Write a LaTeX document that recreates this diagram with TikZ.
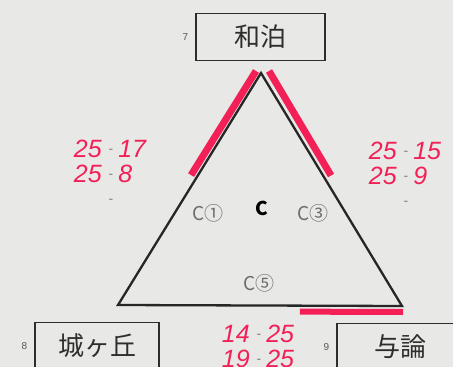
\documentclass[tikz,border=0pt]{standalone}
\usepackage{fontspec}
\setmainfont{Noto Sans CJK JP}
\newfontfamily\handfont{Liberation Sans}
\usetikzlibrary{calc, positioning}

\definecolor{paper}{RGB}{232,232,230}
\definecolor{marker}{RGB}{242,32,86}
\definecolor{ink}{RGB}{45,45,45}

\newcommand{\scoredash}{\hspace{7pt}\raisebox{4pt}{\upshape\color{ink!60}\fontsize{14}{14}\selectfont -}\hspace{5pt}}

\tikzset{
	team_box/.style={draw=ink, line width=1.3pt, minimum height=47pt, inner sep=0pt, text=ink, font=\fontsize{26}{26}\selectfont},
	seed_label/.style={inner sep=1pt, text=ink!80, font=\handfont\fontsize{10}{10}\selectfont},
	pool_label/.style={inner sep=0pt, text=ink!70, font=\fontsize{19}{19}\selectfont},
	score/.style={inner sep=0pt, align=left, text=marker, font=\handfont\itshape\fontsize{25}{25}\selectfont},
	marker_line/.style={draw=marker, line width=7pt},
	triangle_line/.style={draw=black!85, line width=2.3pt, line join=miter},
}

\begin{document}
\begin{tikzpicture}[x=1pt, y=-1pt, node distance=6pt]
	\fill[paper] (0,0) rectangle (453,367);
	\useasboundingbox (0,0) rectangle (453,367);
	\clip (0,0) rectangle (453,367);

	\node (wadomari_box) [team_box, minimum width=129pt] at (260.5,37) {和泊};
	\node (wadomari_seed) [seed_label, left=of wadomari_box] {7};
	\node (shirogaoka_box) [team_box, minimum width=124pt] at (97,346) {城ヶ丘};
	\node (shirogaoka_seed) [seed_label, left=of shirogaoka_box] {8};
	\node (yoron_box) [team_box, minimum width=126pt] at (400,347) {与論};
	\node (yoron_seed) [seed_label, left=of yoron_box] {9};

	\coordinate (apex) at (261,73);
	\coordinate (corner_left) at (118,305);
	\coordinate (corner_right) at (402,306);

	\draw[marker_line] ($(apex)+(-5,-2)$) -- ($(apex)!0.44!(corner_left)+(-7,0)$);
	\draw[marker_line] ($(apex)+(8,-2)$) -- ($(apex)!0.44!(corner_right)+(8,0)$);
	\draw[marker_line, line width=6pt] ($(corner_right)!0.36!(corner_left)+(0,6)$) -- ($(corner_right)+(1,6)$);
	\draw[triangle_line] (apex) -- (corner_left) -- (corner_right) -- cycle;

	\node (pool_name) [pool_label, text=black, font=\bfseries\fontsize{19}{19}\selectfont] at (262,208) {C};
	\node (pool_c1) [pool_label] at (208,213) {C①};
	\node (pool_c3) [pool_label] at (313,213) {C③};
	\node (pool_c5) [pool_label] at (259,283) {C⑤};

	\node (score_left) [score] at (110,174) {25\scoredash 17\\25\scoredash 8\\\phantom{25}\scoredash};
	\node (score_right) [score] at (405,176) {25\scoredash 15\\25\scoredash 9\\\phantom{25}\scoredash};
	\node (score_bottom) [score] at (258,346) {14\scoredash 25\\19\scoredash 25};
\end{tikzpicture}
\end{document}
